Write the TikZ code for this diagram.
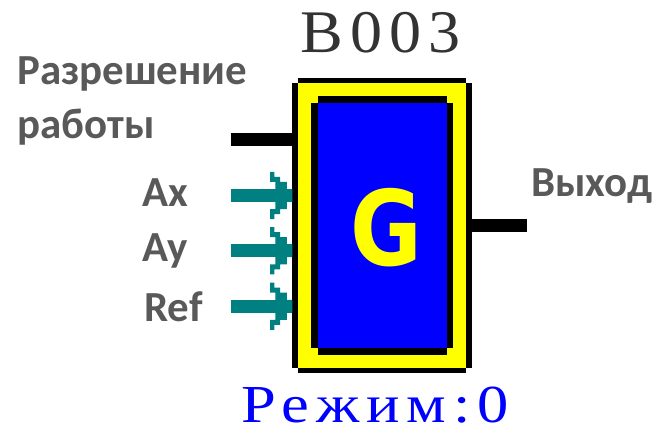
\documentclass[tikz,border=0pt]{standalone}
\usepackage{fontspec}
\setmainfont{Carlito}
\newfontfamily\blockfont[LetterSpace=11]{Liberation Serif}
\newfontfamily\glyphfont{DejaVu Sans}
\usetikzlibrary{positioning}
\definecolor{labelgray}{HTML}{595959}
\definecolor{wireteal}{HTML}{008080}
\definecolor{blockblue}{HTML}{0000FF}
\definecolor{blockyellow}{HTML}{FFFF00}

\tikzset{
    part/.style={rectangle, inner sep=0pt, outer sep=0pt},
    pinlabel/.style={inner sep=0pt, text=labelgray, font=\bfseries\fontsize{30.5}{36}\selectfont},
    wire/.style={draw=black, line width=0.32cm},
    inwire/.style={draw=wireteal, line width=0.32cm},
    stairhead/.pic={
        \fill[wireteal] (-22.3,23.7) -- (-18,23.7) -- (-18,18.7) -- (-12.3,18.7) -- (-12.3,13.7)
            -- (-5.7,13.7) -- (-5.7,6.3) -- (0,6.3) -- (0,-6.3) -- (-5.7,-6.3) -- (-5.7,-13.7)
            -- (-12.3,-13.7) -- (-12.3,-18.7) -- (-18,-18.7) -- (-18,-23.7) -- (-22.3,-23.7)
            -- (-22.3,-13.7) -- (-17,-13.7) -- (-17,13.7) -- (-22.3,13.7) -- cycle;
    }
}

\begin{document}
\begin{tikzpicture}[x=0.025cm, y=-0.025cm]
    \useasboundingbox (0,0) rectangle (660,431);

    % Block
    \node[part, fill=black, minimum width=4.48cm, minimum height=7.12cm] (block) at (382.1,225.35) {};
    \node[part, fill=black, minimum width=4.195cm, minimum height=7.37cm] (blocktall) at (block) {};
    \node[part, fill=blockyellow, minimum width=4.195cm, minimum height=7.12cm] (frame) at (block) {};
    \node[part, fill=black, minimum width=3.54cm, minimum height=6.12cm] (inner) at (block) {};
    \node[part, fill=black, minimum width=3.225cm, minimum height=6.475cm] (innertall) at (block) {};
    \node[part, fill=blockblue, minimum width=3.225cm, minimum height=6.12cm] (core) at (block) {};
    \node[part, text=blockyellow, xscale=0.84, font=\glyphfont\bfseries\fontsize{74}{74}\selectfont] (letter) at (386,228) {G};

    % Titles
    \node[part, text=black!80, xscale=1.06, font=\blockfont\fontsize{43}{43}\selectfont] (name) at (381,33) {B003};
    \node[part, text=blockblue, xscale=1.17, font=\blockfont\fontsize{38}{38}\selectfont] (mode) at (375,405) {Режим:0};

    % Pins
    \coordinate (enablein) at (231,139.7);
    \coordinate (axin) at (231,195.5);
    \coordinate (ayin) at (231,250.8);
    \coordinate (refin) at (231,306.3);
    \coordinate (outend) at (527,225.3);

    \draw[wire] (enablein) -- (enablein -| block.west);
    \draw[wire] (block.east |- outend) -- (outend);
    \draw[inwire] (axin) -- (axin -| block.west);
    \draw[inwire] (ayin) -- (ayin -| block.west);
    \draw[inwire] (refin) -- (refin -| block.west);
    \pic at (axin -| block.west) {stairhead};
    \pic at (ayin -| block.west) {stairhead};
    \pic at (refin -| block.west) {stairhead};

    % Labels
    \node[pinlabel, anchor=west] (enable1) at (17,74) {Разрешение};
    \node[pinlabel, anchor=west] (enable2) at (17,127) {работы};
    \node[pinlabel, left=1.075cm of axin, yshift=0.08cm] (axlabel) {Ax};
    \node[pinlabel, left=1.075cm of ayin] (aylabel) {Ay};
    \node[pinlabel, left=0.7cm of refin] (reflabel) {Ref};
    \node[pinlabel, anchor=west] (outlabel) at (531,186) {Выход};
\end{tikzpicture}
\end{document}
